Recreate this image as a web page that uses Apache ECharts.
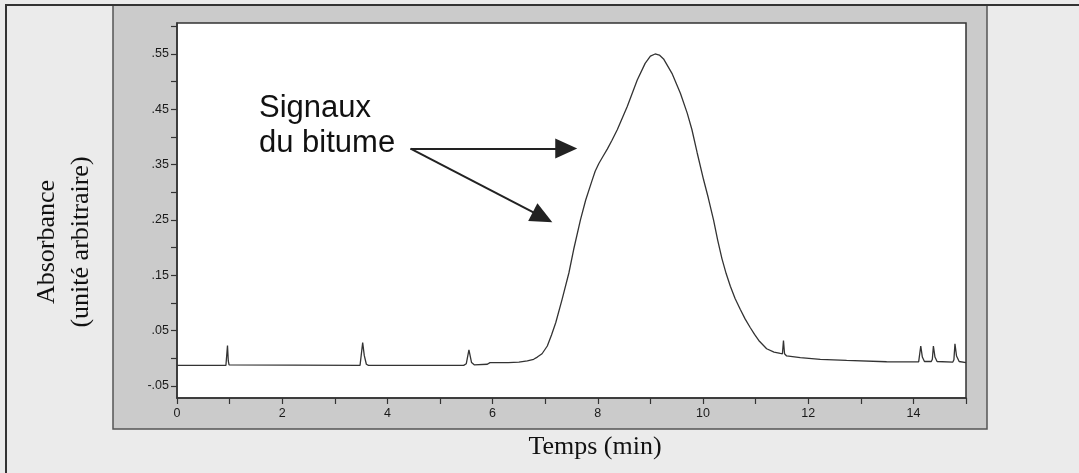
<!DOCTYPE html>
<html>
<head>
<meta charset="utf-8">
<script src="https://cdn.jsdelivr.net/npm/echarts@6/dist/echarts.min.js"></script>
<style>
html,body{margin:0;padding:0;background:#ebebeb;}
#chart{width:1079px;height:473px;}
</style>
</head>
<body>
<div id="chart"></div>
<script>
// Retention time (min)
var time = [0.00,0.93,0.95,0.96,0.975,0.99,1.02,
  3.48,3.50,3.53,3.56,3.60,3.64,
  5.45,5.50,5.55,5.60,5.65,5.90,5.95,6.30,6.50,6.66,6.78,6.85,6.94,
  7.04,7.12,7.20,7.32,7.45,7.54,7.67,7.77,7.89,7.95,8.02,8.10,8.18,8.27,8.37,8.56,8.75,8.90,9.00,
  9.09,9.17,9.25,9.41,9.57,9.70,9.79,9.89,10.01,10.10,10.20,10.28,10.36,10.44,10.52,10.61,10.71,10.80,10.90,10.98,
  11.06,11.21,11.35,11.47,11.51,11.53,11.55,11.59,11.85,12.23,12.73,13.49,
  14.10,14.12,14.14,14.17,14.21,14.34,14.36,14.38,14.41,14.45,14.75,14.77,14.79,14.82,14.87,15.00];
// Absorbance (arbitrary units)
var absorbance = [-0.013,-0.013,-0.010,0.023,-0.005,-0.012,-0.013,
  -0.013,-0.010,0.028,0.005,-0.011,-0.013,
  -0.013,-0.010,0.015,-0.008,-0.012,-0.011,-0.008,-0.008,-0.007,-0.005,-0.002,0.002,0.008,
  0.022,0.042,0.064,0.106,0.154,0.196,0.250,0.286,0.321,0.338,0.352,0.365,0.378,0.394,0.413,0.455,0.503,0.533,0.546,
  0.550,0.548,0.541,0.515,0.479,0.443,0.413,0.371,0.323,0.290,0.250,0.213,0.180,0.153,0.130,0.108,0.088,0.071,0.055,0.043,
  0.032,0.017,0.011,0.0085,0.008,0.032,0.008,0.004,0.001,-0.002,-0.004,-0.0065,
  -0.0066,-0.004,0.022,0.002,-0.006,-0.006,-0.002,0.022,0.002,-0.006,-0.007,-0.003,0.026,0.004,-0.006,-0.008];

var yLabelValues = [-0.05,0.05,0.15,0.25,0.35,0.45,0.55];
var yTickValues = [-0.05,0,0.05,0.1,0.15,0.2,0.25,0.3,0.35,0.4,0.45,0.5,0.55,0.6];
var xLabelValues = [0,2,4,6,8,10,12,14];

// Annotation arrows (data coordinates): start and arrow-head centres
var arrowStart = [4.44, 0.379];
var arrowEnds = [[7.40, 0.379], [6.95, 0.255]];
var annotationText = 'Signaux\ndu bitume';

var points = time.map(function (t, i) { return [t, absorbance[i]]; });

var chart = echarts.init(document.getElementById('chart'), null, {renderer: 'canvas'});
var option = {
  backgroundColor: '#ebebeb',
  animation: false,
  grid: {
    left: 177, right: 113, top: 23, bottom: 75,
    show: true, backgroundColor: '#ffffff', borderColor: '#333', borderWidth: 1.5,
    containLabel: false, outerBoundsMode: 'none'
  },
  xAxis: {
    type: 'value', min: 0, max: 15, interval: 1,
    axisLine: {onZero: false, lineStyle: {color: '#333', width: 1.5}},
    axisTick: {inside: false, length: 6, lineStyle: {color: '#333', width: 1.2}},
    axisLabel: {customValues: xLabelValues, margin: 9, color: '#1a1a1a', fontSize: 12.5,
      fontFamily: 'Liberation Sans', formatter: function (v) { return String(v); }},
    splitLine: {show: false}
  },
  yAxis: {
    type: 'value', min: -0.072, max: 0.606,
    axisLine: {show: true, lineStyle: {color: '#333', width: 1.5}},
    axisTick: {show: true, inside: false, length: 6, customValues: yTickValues,
      lineStyle: {color: '#333', width: 1.2}},
    axisLabel: {customValues: yLabelValues, margin: 8, color: '#1a1a1a', fontSize: 12.5,
      fontFamily: 'Liberation Sans',
      formatter: function (v) { return v.toFixed(2).replace('0.', '.'); }},
    splitLine: {show: false}
  },
  graphic: [
    {type: 'rect', z: -10, silent: true, shape: {x: 6, y: 5, width: 1200, height: 600},
      style: {fill: '#ebebeb', stroke: '#333', lineWidth: 2}},
    {type: 'rect', z: -9, silent: true, shape: {x: 113, y: 5, width: 874, height: 424},
      style: {fill: '#cbcbcb', stroke: '#555', lineWidth: 1.5}},
    {type: 'line', z: -8, silent: true, shape: {x1: 6, y1: 5, x2: 1079, y2: 5},
      style: {stroke: '#333', lineWidth: 2}},
    {type: 'text', x: 64, y: 242, rotation: Math.PI / 2, silent: true,
      style: {text: 'Absorbance\n(unité arbitraire)', fill: '#111', font: '26px "Liberation Serif"',
        lineHeight: 34, align: 'center', verticalAlign: 'middle'}},
    {type: 'text', x: 595, y: 447, silent: true,
      style: {text: 'Temps (min)', fill: '#111', font: '26px "Liberation Serif"',
        align: 'center', verticalAlign: 'middle'}},
    {type: 'text', x: 259, y: 126, silent: true,
      style: {text: annotationText, fill: '#111', font: '31px "Liberation Sans"',
        lineHeight: 35, align: 'left', verticalAlign: 'middle'}}
  ],
  series: [{
    type: 'line',
    data: points,
    showSymbol: false,
    symbol: 'none',
    smooth: false,
    lineStyle: {color: '#333', width: 1.3},
    markLine: {
      silent: true,
      symbol: ['none', 'triangle'],
      symbolSize: [20, 22],
      label: {show: false},
      lineStyle: {color: '#222', width: 2, type: 'solid'},
      data: arrowEnds.map(function (e) {
        return [{coord: arrowStart}, {coord: e}];
      })
    }
  }]
};
chart.setOption(option);
</script>
</body>
</html>
